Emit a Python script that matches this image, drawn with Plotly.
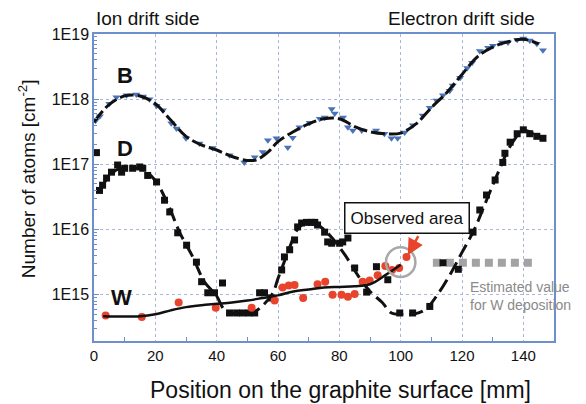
import plotly.graph_objects as go

# ---------------- data ----------------
# B measured (log10 of atoms/cm2)
b_x = [0.5, 1.9, 5.0, 7.3, 10.6, 13.8, 16.0, 18.1, 20.4, 22.5, 25.2, 26.9, 30.0, 34.4, 38.7,
       44.2, 49.0, 52.4, 55.0, 56.7, 59.5, 63.2, 64.8, 67.0, 70.3, 73.6, 75.2, 77.5, 78.5,
       81.2, 82.8, 84.4, 87.3, 92.0, 94.7, 97.0, 99.0, 101.3, 104.0, 107.2, 109.5, 111.7,
       113.8, 116.0, 117.0, 119.4, 121.7, 123.3, 125.8, 128.5, 130.1, 133.0, 135.0, 138.0,
       140.0, 142.1, 144.4, 146.4]
b_log = [17.67, 17.74, 17.93, 18.03, 18.06, 18.07, 18.04, 18.0, 17.9, 17.83, 17.63, 17.55,
         17.4, 17.32, 17.25, 17.14, 17.03, 17.11, 17.19, 17.37, 17.4, 17.26, 17.41, 17.57,
         17.64, 17.7, 17.72, 17.85, 17.78, 17.72, 17.57, 17.52, 17.52, 17.52, 17.47, 17.4,
         17.4, 17.49, 17.6, 17.75, 17.87, 17.98, 18.06, 18.13, 18.21, 18.33, 18.48, 18.56,
         18.74, 18.79, 18.82, 18.87, 18.87, 18.91, 18.93, 18.9, 18.85, 18.75]
# B fit
bf_x = [0, 5, 10, 15, 20, 25, 30, 35, 40, 45, 50, 53, 57, 60, 65, 70, 75, 80, 85, 90, 95,
        100, 105, 110, 115, 120, 125, 130, 135, 140, 145]
bf_log = [17.65, 17.92, 18.05, 18.05, 17.93, 17.68, 17.43, 17.3, 17.22, 17.12, 17.06, 17.07,
          17.2, 17.35, 17.5, 17.62, 17.7, 17.7, 17.58, 17.5, 17.47, 17.48, 17.62, 17.87,
          18.1, 18.38, 18.65, 18.8, 18.88, 18.92, 18.85]

# D measured
d_x = [0.8, 1.8, 2.8, 4.1, 5.7, 7.7, 9.0, 10.0, 12.6, 14.9, 15.9, 17.5, 20.4, 23.0, 24.7,
       27.3, 30.2, 33.4, 35.1, 37.1, 39.3, 41.9, 44.2, 46.5, 48.5, 50.5, 52.4, 54.0, 55.6,
       57.9, 61.2, 62.1, 63.8, 65.4, 66.4, 67.7, 69.3, 70.9, 72.0, 72.9, 75.2, 76.2, 77.5,
       80.1, 81.1, 82.8, 85.0, 88.9, 92.1, 95.8, 99.7, 103.9, 109.5, 113.8, 118.8, 123.6,
       125.8, 128.0, 130.8, 133.3, 134.0, 135.7, 138.0, 140.0, 142.1, 144.4, 146.4]
d_log = [17.18, 16.6, 16.68, 16.79, 16.88, 16.99, 16.88, 16.94, 16.94, 16.96, 16.94, 16.83,
         16.73, 16.45, 16.27, 15.95, 15.76, 15.5, 15.2, 15.03, 15.03, 15.18, 14.72, 14.72,
         14.72, 14.72, 14.72, 15.03, 15.03, 14.95, 15.38, 15.58, 15.69, 15.84, 16.04, 16.1,
         16.11, 16.11, 16.11, 16.07, 15.96, 15.81, 15.79, 15.79, 15.81, 15.87, 15.41, 15.04,
         15.43, 15.23, 14.72, 14.72, 14.82, 15.49, 15.39, 15.96, 16.3, 16.53, 16.76, 17.03,
         17.17, 17.34, 17.47, 17.53, 17.47, 17.43, 17.4]
# D fit
df_x = [2, 5, 8, 12, 16, 20, 24, 28, 32, 36, 40, 42, 44, 48, 52, 58, 60, 62, 64, 66, 68, 70,
        72, 75, 78, 82, 86, 90, 94, 97, 100, 104, 108, 112, 116, 120, 124, 128, 132, 136,
        140, 144, 147]
df_log = [16.62, 16.82, 16.93, 16.95, 16.92, 16.75, 16.4, 15.95, 15.6, 15.2, 14.98, 14.8,
          14.72, 14.72, 14.73, 15.0, 15.25, 15.5, 15.75, 15.98, 16.08, 16.12, 16.1, 16.0,
          15.85, 15.6, 15.3, 15.05, 14.88, 14.72, 14.7, 14.7, 14.77, 15.0, 15.3, 15.65, 16.0,
          16.45, 16.9, 17.3, 17.52, 17.45, 17.4]

# W measured
w_x = [3.8, 15.6, 27.6, 39.7, 51.4, 58.9, 61.5, 63.5, 65.4, 68.2, 72.9, 75.4, 77.8, 80.7,
       82.8, 85.0, 87.6, 89.9, 92.5, 95.0, 97.2, 99.5, 101.9]
w_log = [14.68, 14.66, 14.88, 14.8, 14.8, 14.91, 15.11, 15.14, 15.15, 14.95, 15.16, 15.2,
         15.0, 15.0, 14.97, 15.01, 15.2, 15.22, 15.3, 15.44, 15.38, 15.41, 15.58]
# W fit
wf_x = [3, 15, 20, 25, 30, 35, 40, 45, 50, 55, 60, 65, 70, 75, 80, 85, 90, 95, 100]
wf_log = [14.67, 14.67, 14.7, 14.76, 14.81, 14.84, 14.86, 14.88, 14.91, 14.95, 14.99, 15.05,
          15.08, 15.11, 15.12, 15.13, 15.16, 15.3, 15.46]

# Estimated W deposition
est_x = [110.5, 143.5]
est_log = [15.49, 15.49]

y_ticks = [1e15, 1e16, 1e17, 1e18, 1e19]
y_labels = ["1E15", "1E16", "1E17", "1E18", "1E19"]
x_ticks = [0, 20, 40, 60, 80, 100, 120, 140]

def pw(v):
    return [10 ** a for a in v]

FONT = "Liberation Sans, Arial, sans-serif"
FRAME = "#6d8fcc"
GRID = "#a9b8d8"

fig = go.Figure()
fig.add_trace(go.Scatter(x=est_x, y=pw(est_log), mode="lines",
                         line=dict(color="#a3a3a3", width=8, dash="8px,5px")))
fig.add_trace(go.Scatter(x=b_x, y=pw(b_log), mode="markers",
                         marker=dict(symbol="triangle-down", size=7, color="#4a72b8")))
fig.add_trace(go.Scatter(x=bf_x, y=pw(bf_log), mode="lines",
                         line=dict(color="#111111", width=3, dash="14px,4px", shape="spline")))
fig.add_trace(go.Scatter(x=d_x, y=pw(d_log), mode="markers",
                         marker=dict(symbol="square", size=7, color="#111111")))
fig.add_trace(go.Scatter(x=df_x, y=pw(df_log), mode="lines",
                         line=dict(color="#111111", width=3, dash="14px,6px", shape="spline")))
fig.add_trace(go.Scatter(x=w_x, y=pw(w_log), mode="markers",
                         marker=dict(symbol="circle", size=8, color="#e8442c")))
fig.add_trace(go.Scatter(x=wf_x, y=pw(wf_log), mode="lines",
                         line=dict(color="#111111", width=2.5, shape="spline")))

ann = []
ann.append(dict(x=10, y=18.36, xref="x", yref="y", text="<b>B</b>", showarrow=False,
                font=dict(size=22, color="#111")))
ann.append(dict(x=10, y=17.25, xref="x", yref="y", text="<b>D</b>", showarrow=False,
                font=dict(size=22, color="#111")))
ann.append(dict(x=9, y=14.95, xref="x", yref="y", text="<b>W</b>", showarrow=False,
                font=dict(size=22, color="#111")))
ann.append(dict(x=0.0, y=1.0, xref="paper", yref="paper", xanchor="left", yanchor="bottom",
                yshift=3, text="Ion drift side", showarrow=False,
                font=dict(size=19, color="#111")))
ann.append(dict(x=1.0, y=1.0, xref="paper", yref="paper", xanchor="right", yanchor="bottom",
                xshift=-17, yshift=3, text="Electron drift side", showarrow=False,
                font=dict(size=19, color="#111")))
ann.append(dict(x=121.9, y=14.98, xref="x", yref="y", xanchor="left", align="left",
                text="Estimated value<br>for W deposition", showarrow=False,
                font=dict(size=14, color="#8a8a8a")))
ann.append(dict(x=102, y=16.17, xref="x", yref="y", text="Observed area", showarrow=False,
                font=dict(size=17, color="#111"), bordercolor="#111", borderwidth=1.5,
                borderpad=5, bgcolor="white"))
ann.append(dict(x=102.0, y=15.58, ax=15, ay=-27, xref="x", yref="y",
                text=" ", showarrow=True, arrowhead=2, arrowsize=1.3, standoff=2,
                arrowwidth=2.5, arrowcolor="#e8442c"))
# axis titles as annotations
ann.append(dict(x=0.536, y=-0.16, xref="paper", yref="paper", xanchor="center",
                yanchor="middle", text="Position on the graphite surface [mm]",
                showarrow=False, font=dict(size=23, color="#111")))
ann.append(dict(x=-0.145, y=0.528, xref="paper", yref="paper", xanchor="center",
                yanchor="middle", textangle=-90, text="Number of atoms [cm<sup>-2</sup>]",
                showarrow=False, font=dict(size=19, color="#111")))

fig.update_layout(
    width=586, height=404,
    margin=dict(l=86, r=40, t=26, b=71),
    paper_bgcolor="white", plot_bgcolor="white",
    showlegend=False,
    font=dict(family=FONT, size=14, color="#111"),
    annotations=ann,
    shapes=[dict(type="circle", xref="x", yref="y", x0=95.2, x1=104.8,
                 y0=10 ** 15.27, y1=10 ** 15.73,
                 line=dict(color="#a8a8a8", width=2.5))],
    xaxis=dict(range=[0, 150], tickvals=x_ticks, ticks="", showgrid=True,
               gridcolor=GRID, griddash="dot", gridwidth=1,
               showline=True, linecolor=FRAME, linewidth=1.5, mirror=True,
               zeroline=False, tickfont=dict(size=15), automargin=False,
               minor=dict(tickvals=[10, 30, 50, 70, 90, 110, 130, 150], ticks="inside",
                          ticklen=4, tickcolor=FRAME, showgrid=False)),
    yaxis=dict(type="log", range=[14.29, 19.0], tickvals=y_ticks, ticktext=y_labels,
               ticks="inside", ticklen=5, tickcolor=FRAME,
               showgrid=True, gridcolor=GRID, griddash="dot", gridwidth=1,
               showline=True, linecolor=FRAME, linewidth=1.5, mirror=True,
               zeroline=False, tickfont=dict(size=16), automargin=False,
               minor=dict(tickvals=[m * 10 ** e for e in range(14, 19) for m in range(2, 10)],
                          ticks="inside", ticklen=3, tickcolor=FRAME, showgrid=False)),
)

fig.write_html("out.html")
